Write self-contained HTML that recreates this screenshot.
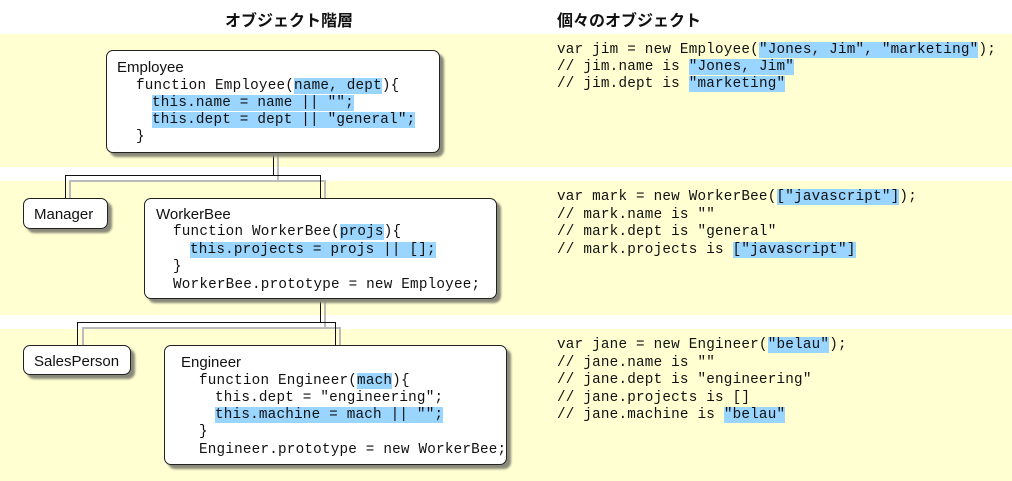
<!DOCTYPE html>
<html><head><meta charset="utf-8"><style>
body{margin:0;width:1012px;height:481px;background:#fff;position:relative;overflow:hidden;}
.band{position:absolute;left:0;width:1012px;background:#ffffd2;}
.box{position:absolute;background:#fff;border:1px solid #222;border-radius:7px;box-shadow:4px 4px 2px #8a8a7a;box-sizing:border-box;}
.t{position:absolute;font-family:"Liberation Sans",sans-serif;font-size:15px;line-height:17px;color:#111;white-space:pre;}
.l{position:absolute;font-family:"Liberation Mono","DejaVu Sans Mono",monospace;font-size:14.3px;letter-spacing:0.2px;line-height:17px;height:17px;white-space:pre;color:#111;}
.h{background:#99d5ff;}
.ti{position:absolute;top:7px;font-family:"Liberation Sans","Noto Sans CJK JP",sans-serif;font-weight:bold;font-size:16px;color:#111;}
.ln{position:absolute;background:#111;}
.sh{position:absolute;background:#bbb;}
</style></head><body>
<div class="ti" style="left:225px">オブジェクト階層</div>
<div class="ti" style="left:557px">個々のオブジェクト</div>
<div class="band" style="top:34px;height:133px"></div>
<div class="band" style="top:181px;height:134px"></div>
<div class="band" style="top:329px;height:152px"></div>

<div class="sh" style="left:277px;top:153px;width:2px;height:27px"></div>
<div class="sh" style="left:69px;top:180px;width:256px;height:2px"></div>
<div class="sh" style="left:69px;top:180px;width:2px;height:18px"></div>
<div class="sh" style="left:324px;top:180px;width:2px;height:18px"></div>
<div class="ln" style="left:273px;top:153px;width:1px;height:23px"></div>
<div class="ln" style="left:65px;top:175px;width:256px;height:1px"></div>
<div class="ln" style="left:65px;top:175px;width:1px;height:23px"></div>
<div class="ln" style="left:320px;top:175px;width:1px;height:23px"></div>
<div class="sh" style="left:324px;top:299px;width:2px;height:28px"></div>
<div class="sh" style="left:82px;top:327px;width:258px;height:2px"></div>
<div class="sh" style="left:82px;top:327px;width:2px;height:18px"></div>
<div class="sh" style="left:339px;top:327px;width:2px;height:18px"></div>
<div class="ln" style="left:320px;top:299px;width:1px;height:23px"></div>
<div class="ln" style="left:77px;top:322px;width:259px;height:1px"></div>
<div class="ln" style="left:77px;top:322px;width:1px;height:23px"></div>
<div class="ln" style="left:335px;top:322px;width:1px;height:23px"></div>

<div class="box" style="left:106px;top:50px;width:334px;height:103px"></div>
<div class="box" style="left:23px;top:198px;width:85px;height:31px"></div>
<div class="box" style="left:144px;top:198px;width:353px;height:101px"></div>
<div class="box" style="left:23px;top:345px;width:108px;height:30px"></div>
<div class="box" style="left:164px;top:345px;width:343px;height:120px"></div>

<div class="t" style="left:117px;top:59px">Employee</div>
<div class="l" style="left:136px;top:78px">function Employee(<span class="h">name, dept</span>){</div>
<div class="l" style="left:152px;top:95px"><span class="h">this.name = name || "";</span></div>
<div class="l" style="left:152px;top:112px"><span class="h">this.dept = dept || "general";</span></div>
<div class="l" style="left:136px;top:129px">}</div>

<div class="t" style="left:34px;top:206px">Manager</div>
<div class="t" style="left:156px;top:206px">WorkerBee</div>
<div class="l" style="left:173px;top:224px">function WorkerBee(<span class="h">projs</span>){</div>
<div class="l" style="left:190px;top:242px"><span class="h">this.projects = projs || [];</span></div>
<div class="l" style="left:173px;top:259px">}</div>
<div class="l" style="left:173px;top:277px">WorkerBee.prototype = new Employee;</div>

<div class="t" style="left:34px;top:353px">SalesPerson</div>
<div class="t" style="left:181px;top:354px">Engineer</div>
<div class="l" style="left:199px;top:373px">function Engineer(<span class="h">mach</span>){</div>
<div class="l" style="left:215px;top:390px">this.dept = "engineering";</div>
<div class="l" style="left:215px;top:407px"><span class="h">this.machine = mach || "";</span></div>
<div class="l" style="left:199px;top:424px">}</div>
<div class="l" style="left:199px;top:442px">Engineer.prototype = new WorkerBee;</div>

<div class="l" style="left:557px;top:42px">var jim = new Employee(<span class="h">"Jones, Jim", "marketing"</span>);</div>
<div class="l" style="left:557px;top:59px">// jim.name is <span class="h">"Jones, Jim"</span></div>
<div class="l" style="left:557px;top:76px">// jim.dept is <span class="h">"marketing"</span></div>

<div class="l" style="left:557px;top:189px">var mark = new WorkerBee(<span class="h">["javascript"]</span>);</div>
<div class="l" style="left:557px;top:207px">// mark.name is ""</div>
<div class="l" style="left:557px;top:224px">// mark.dept is "general"</div>
<div class="l" style="left:557px;top:242px">// mark.projects is <span class="h">["javascript"]</span></div>

<div class="l" style="left:557px;top:337px">var jane = new Engineer(<span class="h">"belau"</span>);</div>
<div class="l" style="left:557px;top:355px">// jane.name is ""</div>
<div class="l" style="left:557px;top:372px">// jane.dept is "engineering"</div>
<div class="l" style="left:557px;top:390px">// jane.projects is []</div>
<div class="l" style="left:557px;top:407px">// jane.machine is <span class="h">"belau"</span></div>
</body></html>
